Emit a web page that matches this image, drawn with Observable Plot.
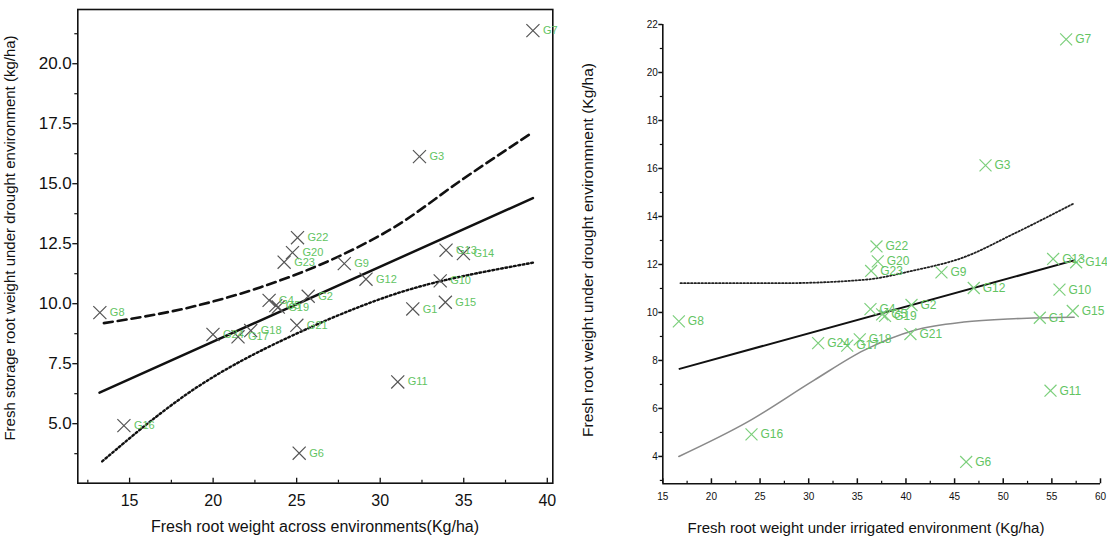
<!DOCTYPE html>
<html>
<head>
<meta charset="utf-8">
<script src="https://cdn.jsdelivr.net/npm/d3@7"></script>
<script src="https://cdn.jsdelivr.net/npm/@observablehq/plot@0.6"></script>
<style>
  body { margin: 0; background: #fff; }
  #wrap { position: relative; width: 1107px; height: 540px; overflow: hidden; background: #fff; font-family: "Liberation Sans", Arial, sans-serif; }
  .ttl { position: absolute; white-space: nowrap; color: #111; transform: translate(-50%, -50%); }
  .rot { transform: translate(-50%, -50%) rotate(-90deg); }
</style>
</head>
<body>
<div id="wrap">
  <div id="L" style="position:absolute;left:0;top:0"></div>
  <div id="R" style="position:absolute;left:560px;top:0"></div>
  <div class="ttl" style="left:315px;top:527px;font-size:16px">Fresh root weight across environments(Kg/ha)</div>
  <div class="ttl" style="left:866px;top:527px;font-size:15px">Fresh root weight under irrigated environment (Kg/ha)</div>
  <div class="ttl rot" style="left:9px;top:238px;font-size:15px">Fresh storage root weight under drought environment (kg/ha)</div>
  <div class="ttl rot" style="left:588px;top:250px;font-size:15.5px">Fresh root weight under drought environmnent (Kg/ha)</div>
</div>
<script>
// ---- data ----
const genotypes = ["G1","G2","G3","G4","G5","G6","G7","G8","G9","G10","G11","G12","G13","G14","G15","G16","G17","G18","G19","G20","G21","G22","G23","G24"];
const drought   = [9.78,10.31,16.13,10.14,9.92,3.77,21.38,9.63,11.67,10.95,6.74,11.02,12.23,12.09,10.06,4.92,8.62,8.88,9.86,12.13,9.10,12.75,11.73,8.72];
const acrossEnv = [31.95,25.69,32.35,23.35,23.75,25.15,39.14,13.22,27.85,33.59,31.05,29.15,33.94,34.98,33.90,14.66,21.49,22.25,23.90,24.75,25.01,25.05,24.25,19.99];
const irrigated = [53.76,40.57,48.18,36.35,37.55,46.19,56.47,16.65,43.65,55.78,54.86,46.97,55.13,57.50,57.15,24.12,33.96,35.25,37.85,37.10,40.46,36.97,36.42,30.97];

// fitted line and confidence curves, left panel
const leftFitX = [13.2, 39.14];
const leftFitY = [6.29, 14.40];
const leftUpperX = [13.46, 18.86, 22.85, 27.85, 30.85, 34.84, 39.14];
const leftUpperY = [9.19, 9.89, 10.69, 12.08, 13.19, 15.14, 17.15];
const leftLowerX = [13.36, 18.86, 24.85, 28.85, 32.85, 39.14];
const leftLowerY = [3.43, 6.67, 8.75, 9.93, 10.90, 11.71];

// fitted line and confidence curves, right panel
const rightFitX = [16.72, 57.29];
const rightFitY = [7.65, 12.17];
const rightUpperX = [16.82, 27.1, 35.67, 40.81, 45.95, 51.09, 57.29];
const rightUpperY = [11.22, 11.22, 11.36, 11.75, 12.30, 13.28, 14.55];
const rightLowerX = [16.65, 23.68, 30.53, 35.67, 40.81, 45.95, 51.09, 57.29];
const rightLowerY = [4.00, 5.43, 7.17, 8.42, 9.25, 9.60, 9.74, 9.80];

// axis ticks
const leftXTicks = [15, 20, 25, 30, 35, 40];
const leftXMinor = [12.5, 17.5, 22.5, 27.5, 32.5, 37.5];
const leftYTicks = [5, 7.5, 10, 12.5, 15, 17.5, 20];
const leftYMinor = [3.75, 6.25, 8.75, 11.25, 13.75, 16.25, 18.75, 21.25];
const rightXTicks = [15, 20, 25, 30, 35, 40, 45, 50, 55, 60];
const rightXMinor = [17.5, 22.5, 27.5, 32.5, 37.5, 42.5, 47.5, 52.5, 57.5];
const rightYTicks = [4, 6, 8, 10, 12, 14, 16, 18, 20, 22];
const rightYMinor = [3, 5, 7, 9, 11, 13, 15, 17, 19, 21];

const leftXDomain = [11.9, 40.33];
const leftYDomain = [2.52, 22.26];
const rightXDomain = [15, 60];
const rightYDomain = [2.86, 22];

// ---- build tables ----
const pts = genotypes.map((g, i) => ({g, d: drought[i], a: acrossEnv[i], r: irrigated[i]}));
const zip = (xs, ys) => xs.map((x, i) => ({x, y: ys[i]}));

const green = "#62c462";
const font = "Liberation Sans, Arial, sans-serif";

const left = Plot.plot({
  width: 560, height: 540,
  marginLeft: 77.3, marginRight: 7.7, marginTop: 9, marginBottom: 57.3,
  x: {domain: leftXDomain},
  y: {domain: leftYDomain},
  style: {fontFamily: font, background: "white", overflow: "visible", color: "#111"},
  marks: [
    Plot.frame({stroke: "#111", strokeWidth: 1.6}),
    Plot.axisY(leftYTicks, {tickSize: 5, tickPadding: 1, tickFormat: d3.format(".1f"), fontSize: 17, label: null, strokeWidth: 1.3}),
    Plot.axisY(leftYMinor, {tickSize: 3, fill: "none", label: null, strokeWidth: 1.2}),
    Plot.axisX(leftXTicks, {tickSize: 5, dy: -5, fill: "none", label: null, strokeWidth: 1.3}),
    Plot.axisX(leftXMinor, {tickSize: 3, dy: -3, fill: "none", label: null, strokeWidth: 1.2}),
    Plot.axisX(leftXTicks, {tickSize: 0, tickPadding: 11, fontSize: 16, label: null}),
    Plot.line(zip(leftUpperX, leftUpperY), {x: "x", y: "y", curve: "monotone-x", stroke: "#111", strokeWidth: 2.6, strokeDasharray: "9,5"}),
    Plot.line(zip(leftLowerX, leftLowerY), {x: "x", y: "y", curve: "basis", stroke: "#111", strokeWidth: 2.4, strokeDasharray: "1.8,2.6"}),
    Plot.line(zip(leftFitX, leftFitY), {x: "x", y: "y", stroke: "#111", strokeWidth: 2.5}),
    Plot.dot(pts, {x: "a", y: "d", symbol: "times", r: 6, stroke: "#555", strokeWidth: 1.2}),
    Plot.text(pts, {x: "a", y: "d", text: "g", dx: 10, textAnchor: "start", fill: green, fontSize: 11})
  ]
});
document.getElementById("L").appendChild(left);

const right = Plot.plot({
  width: 547, height: 540,
  marginLeft: 102.3, marginRight: 7, marginTop: 24, marginBottom: 56.7,
  x: {domain: rightXDomain},
  y: {domain: rightYDomain},
  style: {fontFamily: font, background: "white", overflow: "visible", color: "#111"},
  marks: [
    Plot.ruleX([rightXDomain[0]], {stroke: "#111", strokeWidth: 1.6}),
    Plot.ruleY([rightYDomain[0]], {stroke: "#111", strokeWidth: 1.6}),
    Plot.axisY(rightYTicks, {tickSize: 4, tickPadding: 1, fontSize: 10, label: null, strokeWidth: 1.5}),
    Plot.axisY(rightYMinor, {tickSize: 2.5, fill: "none", label: null, strokeWidth: 1.2}),
    Plot.axisX(rightXTicks, {tickSize: 5, dy: -5, fill: "none", label: null, strokeWidth: 1.5}),
    Plot.axisX(rightXMinor, {tickSize: 2.5, dy: -2.5, fill: "none", label: null, strokeWidth: 1.2}),
    Plot.axisX(rightXTicks, {tickSize: 0, tickPadding: 9, fontSize: 10, label: null}),
    Plot.line(zip(rightUpperX, rightUpperY), {x: "x", y: "y", curve: "monotone-x", stroke: "#222", strokeWidth: 1.8, strokeDasharray: "1.5,2"}),
    Plot.line(zip(rightLowerX, rightLowerY), {x: "x", y: "y", curve: "monotone-x", stroke: "#8a8a8a", strokeWidth: 1.6}),
    Plot.line(zip(rightFitX, rightFitY), {x: "x", y: "y", stroke: "#111", strokeWidth: 2}),
    Plot.dot(pts, {x: "r", y: "d", symbol: "times", r: 5.5, stroke: "#7ccf7c", strokeWidth: 1.2}),
    Plot.text(pts, {x: "r", y: "d", text: "g", dx: 9, textAnchor: "start", fill: green, fontSize: 12})
  ]
});
document.getElementById("R").appendChild(right);
</script>
</body>
</html>
